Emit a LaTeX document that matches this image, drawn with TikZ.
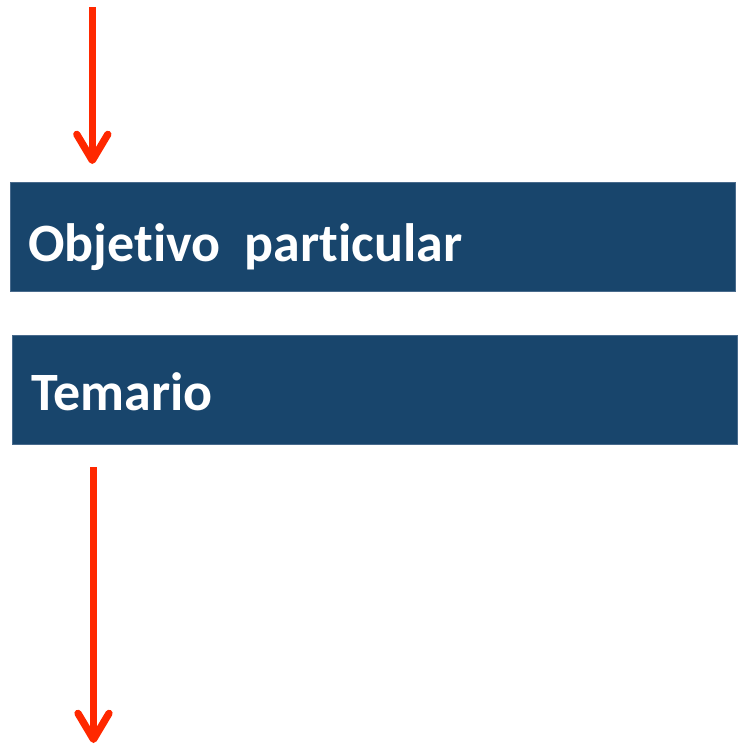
\documentclass[tikz,border=0pt]{standalone}
\usepackage{fontspec}
\setmainfont{Carlito}[Ligatures={NoCommon}]
\usetikzlibrary{arrows.meta,positioning}

\definecolor{azul}{RGB}{24,69,108}
\definecolor{borde}{RGB}{72,106,140}
\definecolor{rojo}{RGB}{255,40,0}

\begin{document}
\begin{tikzpicture}[x=1pt,y=-1pt,
  caja/.style={rectangle,fill=azul,draw=borde,line width=0.8pt,minimum width=725pt,minimum height=109pt,inner sep=0pt},
  titulo/.style={anchor=base west,text=white,font=\fontsize{54}{62}\selectfont\bfseries,inner sep=0pt},
  flecha/.style={draw=rojo,line width=7.3pt,-{Straight Barb[length=26pt,width=31pt,round]}}]
\useasboundingbox (0,0) rectangle (738,744);

% Cajas
\node[caja] (objetivo) at (372.5,236.5) {};
\node[caja] (temario) at (375,389.5) {};
\node[titulo] (tobj) at (28,261) {Objetivo\ \ particular};
\node[titulo] (ttem) at (31,410) {Temario};

% Flechas
\coordinate (in1) at (92.3,7);
\coordinate (out1) at (92.3,164);
\coordinate (in2) at (93.5,467);
\coordinate (out2) at (93.5,743);
\draw[flecha] (in1) -- (out1);
\draw[flecha] (in2) -- (out2);
\end{tikzpicture}
\end{document}
